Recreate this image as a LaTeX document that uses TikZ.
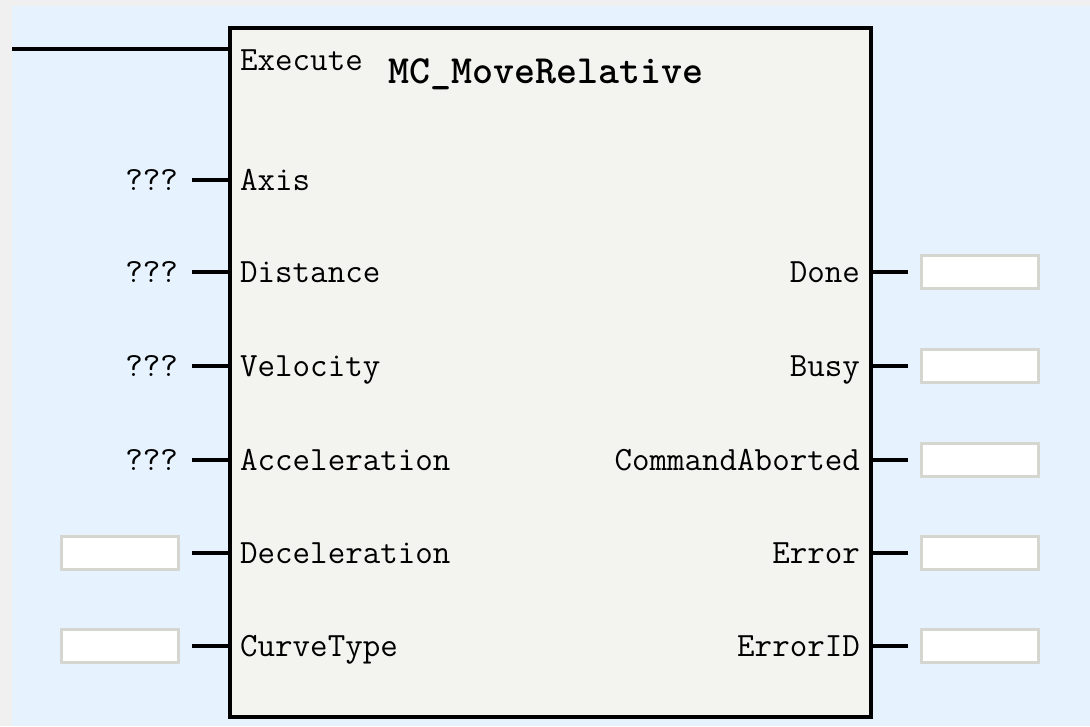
\documentclass[tikz,border=0pt]{standalone}
\definecolor{outerbg}{HTML}{F0F0F0}
\definecolor{panelbg}{HTML}{E6F3FE}
\definecolor{blockfill}{HTML}{F3F4EF}
\definecolor{boxedge}{HTML}{D6D6D0}
\begin{document}
\begin{tikzpicture}[x=1pt,y=-1pt,
  pinlabel/.style={inner sep=0pt,font=\fontsize{34}{36}\selectfont\ttfamily},
  titlelabel/.style={inner sep=0pt,font=\fontsize{40}{42}\selectfont\ttfamily\bfseries},
  pinline/.style={line width=3.5pt},
  valbox/.style={draw=boxedge,line width=3pt,fill=white,minimum width=117pt,minimum height=33pt,inner sep=0pt},
  fblock/.style={draw=black,line width=3.5pt,fill=blockfill,minimum width=641pt,minimum height=689pt,inner sep=0pt}]
\useasboundingbox (0,0) rectangle (1090,726);
\fill[outerbg] (0,0) rectangle (1090,726);
\fill[panelbg] (12,6) rectangle (1090,726);
% execute line
\coordinate (exStart) at (12,49);
\node[fblock] (fb) at (550.5,372.5) {};
\draw[pinline] (exStart) -- (exStart -| fb.west);
\node[pinlabel,anchor=base west] (lExec) at (240,70) {Execute};
\node[titlelabel,anchor=base west] (title) at (388,83) {MC\_MoveRelative};
% left inputs
\foreach \nm/\lab/\yy in {Axis/Axis/180,Dist/Distance/272,Velo/Velocity/366,Accel/Acceleration/460,Decel/Deceleration/553,Curve/CurveType/646}{
  \coordinate (in\nm) at (192,\yy);
  \draw[pinline] (in\nm) -- (in\nm -| fb.west);
  \node[pinlabel,anchor=base west] (l\nm) at (240,\yy+10) {\lab};
}
\foreach \nm/\yy in {Axis/180,Dist/272,Velo/366,Accel/460}{
  \node[pinlabel,anchor=base east] (q\nm) at (178,\yy+10) {???};
}
\node[valbox] (bDecel) at (120,553) {};
\node[valbox] (bCurve) at (120,646) {};
% right outputs
\foreach \nm/\lab/\yy in {Done/Done/272,Busy/Busy/366,Abort/CommandAborted/460,Err/Error/553,ErrID/ErrorID/646}{
  \coordinate (out\nm) at (908,\yy);
  \draw[pinline] (out\nm -| fb.east) -- (out\nm);
  \node[pinlabel,anchor=base east] (r\nm) at (860,\yy+10) {\lab};
  \node[valbox] (b\nm) at (980,\yy) {};
}
\end{tikzpicture}
\end{document}
